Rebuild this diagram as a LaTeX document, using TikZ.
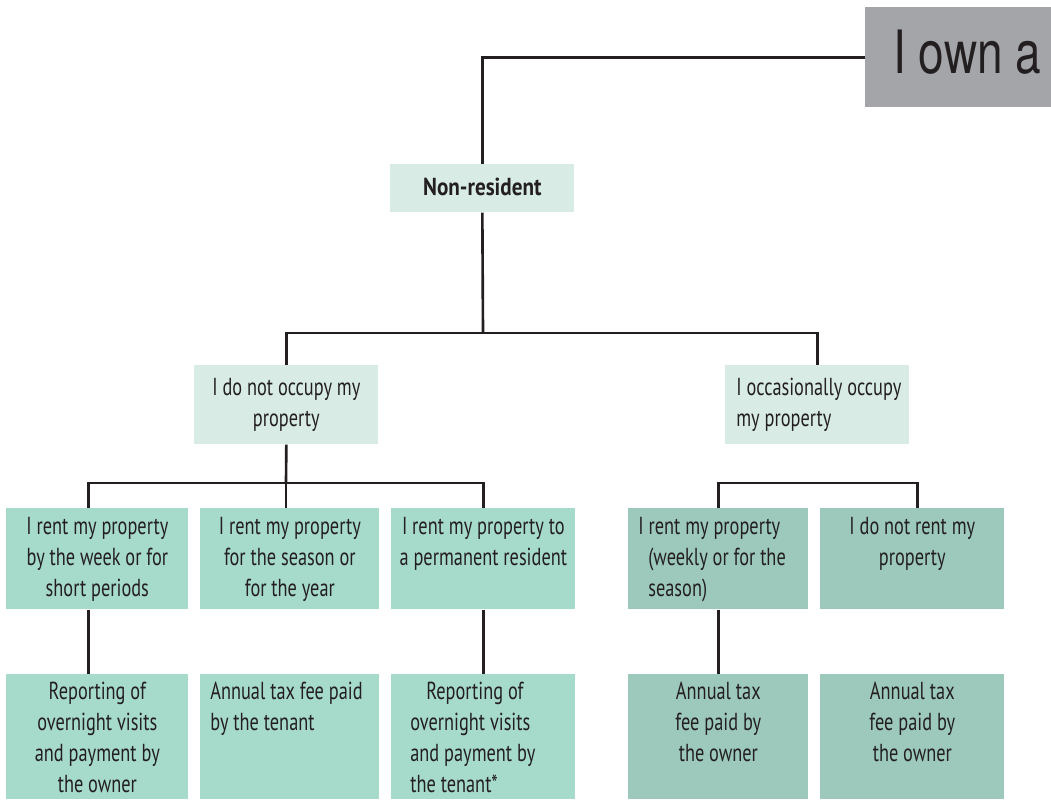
\documentclass[tikz,border=0pt]{standalone}
\usepackage{fontspec}
\newfontfamily\cellfont[FakeStretch=0.745]{PT Sans}
\newfontfamily\headfont[FakeStretch=0.86]{PT Sans}
\newfontfamily\ownfont[FakeStretch=0.77]{TeX Gyre Heros}
\definecolor{pale}{HTML}{D8ECE5}
\definecolor{mint}{HTML}{A6DACA}
\definecolor{sage}{HTML}{9CC9BB}
\definecolor{slate}{HTML}{A3A5A9}
\definecolor{ink}{HTML}{231F20}
% width, height, first baseline, alignment, text
\newcommand{\cellbox}[5]{\parbox[t][#2][t]{#1}{#4\rule{0pt}{#3}#5}}

\begin{document}
\begin{tikzpicture}[x=0.02cm,y=-0.02cm,
  every node/.style={inner sep=0pt,anchor=north west,text=ink,font=\cellfont\fontsize{14}{17.6}\selectfont},
  soft/.style={fill=pale},rent/.style={fill=mint},occ/.style={fill=sage},
  link/.style={draw=ink,line width=1.5pt}]
  \useasboundingbox (0,0) rectangle (1051,799);
  \path (865,7) node[fill=slate,font=\ownfont\fontsize{34}{40}\selectfont] (own)
    {\cellbox{3.72cm}{2cm}{1.32cm}{\leftskip=0.56cm}{I own a}};
  \path (390,164) node[soft,font=\headfont\bfseries\fontsize{14}{17.6}\selectfont] (nonres) {\cellbox{3.68cm}{0.96cm}{0.62cm}{\centering}{Non-resident}}
  (194,365) node[soft] (occL) {\cellbox{3.68cm}{1.58cm}{0.6cm}{\centering}{I do not occupy my\\property}}
  (725,365) node[soft] (occR) {\cellbox{3.68cm}{1.58cm}{0.6cm}{\raggedright\leftskip=0.22cm}{I occasionally occupy\\my property}};
  \path (6,508) node[rent] (r3a) {\cellbox{3.64cm}{2.02cm}{0.52cm}{\centering}{I rent my property\\by the week or for\\short periods}}
  (200,508) node[rent] (r3b) {\cellbox{3.58cm}{2.02cm}{0.52cm}{\centering}{I rent my property\\for the season or\\for the year}}
  (391,508) node[rent] (r3c) {\cellbox{3.68cm}{2.02cm}{0.52cm}{\centering}{I rent my property to\\a permanent resident}}
  (628,508) node[occ] (r3d) {\cellbox{3.6cm}{2.02cm}{0.52cm}{\raggedright\leftskip=0.4cm}{\hspace*{-0.2cm}I rent my property\\(weekly or for the\\season)}}
  (820,508) node[occ] (r3e) {\cellbox{3.68cm}{2.02cm}{0.52cm}{\centering}{I do not rent my\\property}};
  \path (6,674) node[rent] (r4a) {\cellbox{3.64cm}{2.5cm}{0.5cm}{\centering}{Reporting of\\overnight visits\\and payment by\\the owner}}
  (200,674) node[rent] (r4b) {\cellbox{3.58cm}{2.5cm}{0.5cm}{\raggedright\leftskip=0.2cm}{Annual tax fee paid\\by the tenant}}
  (391,674) node[rent] (r4c) {\cellbox{3.68cm}{2.5cm}{0.5cm}{\raggedright\leftskip=0.38cm}{\hspace*{0.32cm}Reporting of\\overnight visits\\and payment by\\the tenant*}}
  (628,674) node[occ] (r4d) {\cellbox{3.6cm}{2.5cm}{0.5cm}{\centering}{Annual tax\\fee paid by\\the owner}}
  (820,674) node[occ] (r4e) {\cellbox{3.68cm}{2.5cm}{0.5cm}{\centering}{Annual tax\\fee paid by\\the owner}};
  \coordinate (bar1) at (483,333);
  \coordinate (bar2) at (286,483);
  \coordinate (bar3) at (818,483);
  \draw[link] (own.west) -| (nonres.north);
  \draw[link] (nonres.south) -- (bar1);
  \draw[link] (occL.north) |- (bar1) -| (occR.north);
  \draw[link] (occL.south) -- (bar2);
  \draw[link] ([xshift=-0.18cm]r3a.north) |- (bar2) -| (r3c.north);
  \draw[link] (r3b.north -| bar2) -- (bar2);
  \draw[link] (r3d.north) |- (bar3) -| ([xshift=0.1cm]r3e.north);
  \draw[link] ([xshift=-0.18cm]r3a.south) -- ([xshift=-0.18cm]r4a.north);
  \draw[link] (r3c.south) -- (r4c.north);
  \draw[link] (r3d.south) -- (r4d.north);
\end{tikzpicture}
\end{document}
